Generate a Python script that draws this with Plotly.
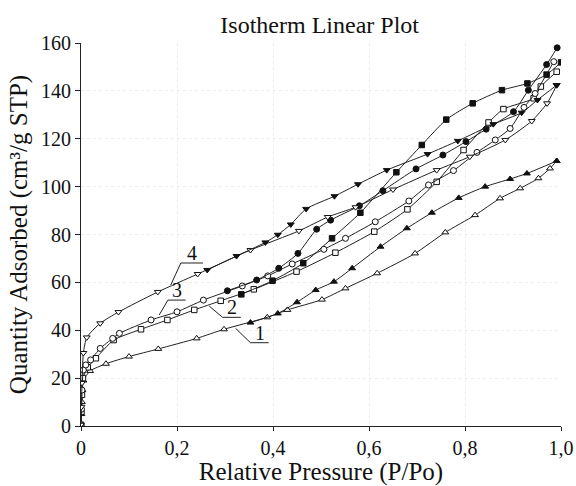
import plotly.graph_objects as go

# ---- data ----
# Sample 1 (triangle-up)
s1_ads_x = [0.0, 0.001, 0.002, 0.003, 0.005, 0.019, 0.052, 0.10, 0.161, 0.241, 0.298, 0.388, 0.43, 0.502, 0.551, 0.617, 0.696, 0.759, 0.821, 0.873, 0.915, 0.953, 0.977, 0.991]
s1_ads_y = [0.5, 5, 10, 15, 19, 23, 26, 29, 32.2, 36.6, 40.4, 45.4, 48.5, 52.8, 57.5, 63.8, 72.1, 80.9, 88.1, 95.1, 99.3, 103.5, 107.6, 110.7]
s1_des_x = [0.991, 0.929, 0.894, 0.842, 0.787, 0.731, 0.679, 0.624, 0.565, 0.527, 0.489, 0.45, 0.41, 0.353]
s1_des_y = [110.7, 105.5, 103.2, 100.0, 95.3, 89.1, 82.6, 74.9, 65.9, 60.3, 56.8, 51.7, 47.0, 43.2]

# Sample 2 (square)
s2_ads_x = [0.0, 0.001, 0.002, 0.004, 0.014, 0.031, 0.068, 0.125, 0.18, 0.236, 0.291, 0.36, 0.449, 0.53, 0.611, 0.68, 0.741, 0.797, 0.849, 0.88, 0.943, 0.958, 0.991]
s2_ads_y = [0.5, 6, 13, 20, 24.5, 28.3, 35.9, 40.4, 44.3, 48.5, 52.3, 57.1, 64.5, 72.4, 81.2, 90.5, 102.0, 115.3, 126.8, 132.4, 136.9, 141.8, 148.0]
s2_des_x = [1.0, 0.97, 0.93, 0.877, 0.816, 0.761, 0.71, 0.657, 0.582, 0.523, 0.463, 0.399, 0.334]
s2_des_y = [151.9, 146.8, 143.1, 140.3, 134.8, 128.0, 117.4, 106.0, 89.1, 78.4, 68.0, 60.7, 55.0]

# Sample 3 (circle)
s3_ads_x = [0.0, 0.001, 0.002, 0.005, 0.01, 0.02, 0.04, 0.066, 0.08, 0.146, 0.2, 0.255, 0.336, 0.389, 0.44, 0.506, 0.551, 0.613, 0.683, 0.724, 0.776, 0.825, 0.863, 0.894, 0.923, 0.946, 0.985]
s3_ads_y = [0.5, 7, 15, 23.4, 25.5, 27.6, 32.4, 36.6, 38.7, 44.3, 47.7, 52.6, 58.5, 62.7, 67.7, 73.8, 78.4, 85.3, 94.0, 100.7, 106.7, 114.3, 119.5, 124.3, 133.1, 138.9, 152.2]
s3_des_x = [0.992, 0.97, 0.932, 0.901, 0.844, 0.802, 0.754, 0.698, 0.629, 0.58, 0.52, 0.491, 0.452, 0.412, 0.366, 0.305]
s3_des_y = [158.0, 151.0, 140.3, 131.3, 124.0, 118.8, 113.2, 107.4, 98.3, 92.0, 86.0, 82.2, 72.1, 65.9, 61.0, 56.5]

# Sample 4 (triangle-down)
s4_ads_x = [0.0, 0.001, 0.002, 0.005, 0.012, 0.04, 0.078, 0.16, 0.243, 0.353, 0.454, 0.514, 0.572, 0.65, 0.741, 0.81, 0.884, 0.939, 0.971, 0.991]
s4_ads_y = [0.5, 8, 18, 30.5, 37.0, 42.9, 47.6, 56.0, 63.5, 73.5, 81.5, 87.3, 91.4, 98.8, 106.9, 112.5, 119.5, 127.4, 134.8, 142.4]
s4_des_x = [0.991, 0.951, 0.918, 0.859, 0.785, 0.722, 0.637, 0.577, 0.528, 0.469, 0.437, 0.41, 0.384, 0.324, 0.263]
s4_des_y = [142.4, 136.2, 130.9, 126.1, 119.1, 113.6, 106.9, 101.0, 96.0, 90.7, 84.2, 79.9, 76.7, 71.0, 65.2]

x_tick_vals = [0, 0.2, 0.4, 0.6, 0.8, 1.0]
x_tick_text = ["0", "0,2", "0,4", "0,6", "0,8", "1,0"]
y_tick_vals = [0, 20, 40, 60, 80, 100, 120, 140, 160]

curve_labels = ["1", "2", "3", "4"]

# ---- figure ----
FONT = "Liberation Serif, Times New Roman, serif"
fig = go.Figure()

series = [
    (s1_ads_x, s1_ads_y, "triangle-up", False),
    (s1_des_x, s1_des_y, "triangle-up", True),
    (s2_ads_x, s2_ads_y, "square", False),
    (s2_des_x, s2_des_y, "square", True),
    (s3_ads_x, s3_ads_y, "circle", False),
    (s3_des_x, s3_des_y, "circle", True),
    (s4_ads_x, s4_ads_y, "triangle-down", False),
    (s4_des_x, s4_des_y, "triangle-down", True),
]
for xs, ys, sym, filled in series:
    fig.add_trace(go.Scatter(
        x=xs, y=ys, mode="lines+markers",
        line=dict(color="#222", width=1, shape="spline", smoothing=0.6),
        marker=dict(symbol=sym, size=6 if sym != "square" else 5.5,
                    color="#111" if filled else "white",
                    line=dict(color="#111", width=1)),
        showlegend=False, hoverinfo="skip"))

# curve labels with leader lines: (underline x0, x1, y, leader end x, y)
label_geom = [
    (0.353, 0.391, 34.8, 0.322, 40.8),
    (0.295, 0.333, 45.4, 0.267, 50.1),
    (0.181, 0.218, 52.6, 0.163, 46.4),
    (0.208, 0.254, 68.1, 0.187, 58.9),
]
for lab, (ux0, ux1, uy, lx, ly) in zip(curve_labels, label_geom):
    fig.add_shape(type="line", x0=ux0, x1=ux1, y0=uy, y1=uy,
                  line=dict(color="#222", width=1))
    fig.add_shape(type="line", x0=ux0, x1=lx, y0=uy, y1=ly,
                  line=dict(color="#222", width=1))
    fig.add_annotation(x=(ux0 + ux1) / 2, y=uy, text=lab, showarrow=False,
                       xanchor="center", yanchor="bottom", yshift=-3,
                       font=dict(family=FONT, size=20, color="#111"))

fig.update_layout(
    width=576, height=486,
    margin=dict(l=81, r=15, t=43, b=60),
    paper_bgcolor="white", plot_bgcolor="white",
    font=dict(family=FONT, color="#111"),
    title=dict(text="Isotherm Linear Plot", x=0.555, xanchor="center",
               y=0.95, yanchor="middle",
               font=dict(family=FONT, size=24, color="#111")),
)
fig.update_xaxes(
    range=[0, 1.0], tickmode="array", tickvals=x_tick_vals, ticktext=x_tick_text,
    showline=True, linecolor="#222", linewidth=1, ticks="outside", ticklen=4,
    tickcolor="#222", tickfont=dict(family=FONT, size=20, color="#111"),
    showgrid=True, gridcolor="#ededed", griddash="dot", gridwidth=1,
    zeroline=False, automargin=False,
    title=dict(text="Relative Pressure (P/Po)", standoff=7,
               font=dict(family=FONT, size=25, color="#111")),
)
fig.update_yaxes(
    range=[0, 160], tickmode="array", tickvals=y_tick_vals,
    showline=True, linecolor="#222", linewidth=1, ticks="outside", ticklen=5,
    tickcolor="#222", tickfont=dict(family=FONT, size=20, color="#111"),
    showgrid=True, gridcolor="#ededed", griddash="dot", gridwidth=1,
    zeroline=False, automargin=False,
    title=dict(text="Quantity Adsorbed (cm³/g STP)", standoff=6,
               font=dict(family=FONT, size=25, color="#111")),
)

fig.write_html("out.html")
